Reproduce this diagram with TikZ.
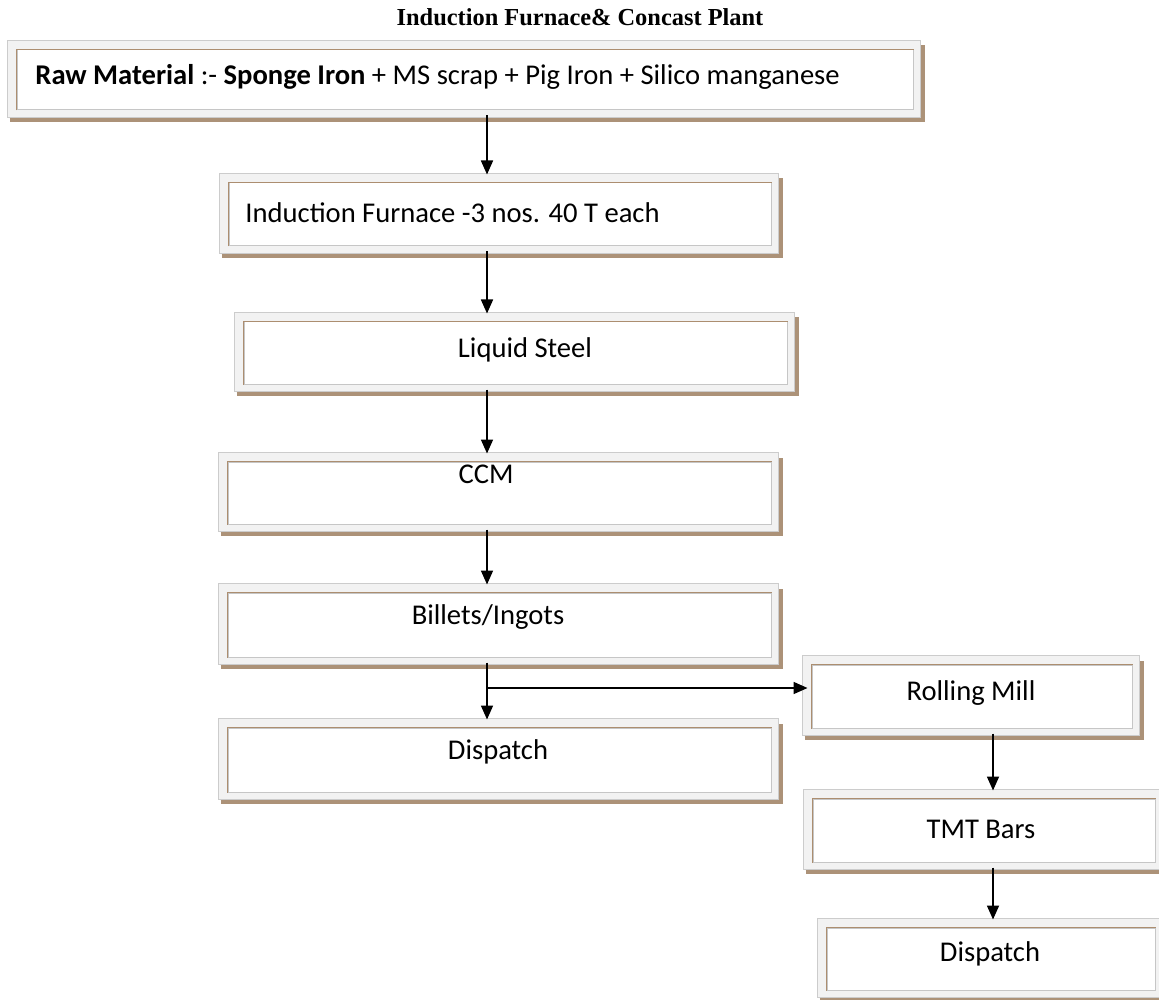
\documentclass[tikz,border=0pt]{standalone}
\usepackage{fontspec}
\setmainfont{Carlito}
\newfontfamily\titlefont{Liberation Serif}
\usetikzlibrary{arrows.meta,backgrounds}

\definecolor{rimbrown}{RGB}{172,142,112}
\definecolor{bandbrown}{RGB}{172,146,120}
\definecolor{framegray}{RGB}{242,242,242}

\tikzset{
    stage/.style = {rectangle, draw = gray!45, fill = white, line width = .5pt, inner sep = 0pt},
    rim/.style = {draw = rimbrown, line width = .9pt},
    band/.style = {draw = bandbrown, line width = 2pt},
    caption/.style = {font = \fontsize{14.3}{17}\selectfont, inner sep = 0pt},
    flow/.style = {-{Triangle[width=6pt,length=7pt]}, line width = .85pt,
                   shorten <= 2.5pt, shorten >= 4pt}
}

% outer grey frame, shadow band and brown rim of one box
\newcommand{\stageframe}[1]{%
    \begin{scope}[on background layer]
        \filldraw[fill = framegray, draw = gray!40, line width = .5pt]
            ([shift={(-4.5pt,4.5pt)}]#1.north west) rectangle ([shift={(3.5pt,-3.5pt)}]#1.south east);
        \draw[band] ([shift={(-3.5pt,-4.8pt)}]#1.south west) -| ([shift={(4.8pt,2pt)}]#1.north east);
    \end{scope}
    \draw[rim] (#1.south west) |- (#1.north east);
}

\begin{document}
\begin{tikzpicture}[x = .5pt, y = -.5pt]

    \useasboundingbox (0,0) rectangle (1159,999);

    \node[font = \titlefont\bfseries\fontsize{12.2}{14}\selectfont] (title) at (580,17) {Induction Furnace\& Concast Plant};

    % boxes
    \node[stage, minimum width = 448pt, minimum height = 30pt] (raw) at (465,80) {};
    \node[stage, minimum width = 271pt, minimum height = 31.5pt] (furnace) at (500,214.5) {};
    \node[stage, minimum width = 271.5pt, minimum height = 31pt] (liquid) at (515.5,353) {};
    \node[stage, minimum width = 271.5pt, minimum height = 31pt] (ccm) at (499.5,493) {};
    \node[stage, minimum width = 271.5pt, minimum height = 32pt] (billets) at (499.5,625) {};
    \node[stage, minimum width = 271.5pt, minimum height = 32pt] (dispatch1) at (499.5,760) {};

    \node[stage, minimum width = 160pt, minimum height = 31.5pt] (rolling) at (972,696.5) {};
    \node[stage, minimum width = 171pt, minimum height = 31.5pt] (tmt) at (984,830.5) {};
    \node[stage, minimum width = 164pt, minimum height = 31pt] (dispatch2) at (991,959) {};

    \stageframe{raw}
    \stageframe{furnace}
    \stageframe{liquid}
    \stageframe{ccm}
    \stageframe{billets}
    \stageframe{dispatch1}
    \stageframe{rolling}
    \stageframe{tmt}
    \stageframe{dispatch2}

    % texts
    \node[caption, anchor = west] (raw-t) at (35,77)
        {\textbf{Raw Material} :- \textbf{Sponge Iron} + MS scrap + Pig Iron + Silico manganese};
    \node[caption, anchor = west] (furnace-t) at (245,213) {Induction Furnace -3 nos. 40 T each};
    \node[caption] (liquid-t) at (525,350) {Liquid Steel};
    \node[caption] (ccm-t) at (486,474) {CCM};
    \node[caption] (billets-t) at (488,617) {Billets/Ingots};
    \node[caption] (dispatch1-t) at (498,752) {Dispatch};
    \node[caption] (rolling-t) at (971,693) {Rolling Mill};
    \node[caption] (tmt-t) at (981,829) {TMT Bars};
    \node[caption] (dispatch2-t) at (990,954) {Dispatch};

    % arrows
    \coordinate (trunk) at (487,0);
    \coordinate (side) at (993,0);
    \coordinate (split) at (487,688);

    \draw[flow] (raw.south -| trunk) -- (furnace.north -| trunk);
    \draw[flow] (furnace.south -| trunk) -- (liquid.north -| trunk);
    \draw[flow] (liquid.south -| trunk) -- (ccm.north -| trunk);
    \draw[flow] (ccm.south -| trunk) -- (billets.north -| trunk);
    \draw[flow] (billets.south -| trunk) -- (dispatch1.north -| trunk);
    \draw[flow, shorten <= 0pt, shorten >= 2pt] (split) -- (split -| rolling.west);

    \draw[flow] (rolling.south -| side) -- (tmt.north -| side);
    \draw[flow] (tmt.south -| side) -- (dispatch2.north -| side);
\end{tikzpicture}
\end{document}
